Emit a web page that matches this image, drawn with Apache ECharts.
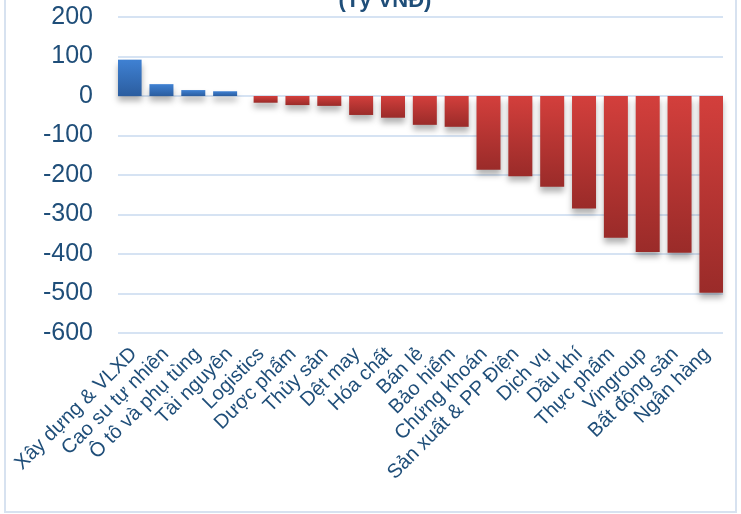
<!DOCTYPE html>
<html>
<head>
<meta charset="utf-8" />
<script src="https://cdn.jsdelivr.net/npm/echarts@6/dist/echarts.min.js"></script>
<title>Tỷ VNĐ</title>
<style>
  html, body { margin: 0; padding: 0; background: #fff; }
  #main { width: 741px; height: 514px; }
</style>
</head>
<body>
<div id="main"></div>
<script>
// nganh (sector) names, left to right
var sectors = ['Xây dựng & VLXD', 'Cao su tự nhiên', 'Ô tô và phụ tùng', 'Tài nguyên', 'Logistics',
  'Dược phẩm', 'Thủy sản', 'Dệt may', 'Hóa chất', 'Bán lẻ', 'Bảo hiểm', 'Chứng khoán',
  'Sản xuất & PP Điện', 'Dịch vụ', 'Dầu khí', 'Thực phẩm', 'Vingroup', 'Bất động sản', 'Ngân hàng'];
// gia tri (ty VND)
var values = [92, 30, 15, 12, -17, -23, -25, -48, -55, -73, -78, -187, -203, -230, -285, -359, -395, -397, -498];
var yTicks = [-600, -500, -400, -300, -200, -100, 0, 100, 200];

var posVals = values.map(function (v) { return v >= 0 ? v : null; });
var negVals = values.map(function (v) { return v < 0 ? v : null; });

var textBlue = '#1F4E79';
var myChart = echarts.init(document.getElementById('main'));

function grad(top, bottom) {
  return new echarts.graphic.LinearGradient(0, 0, 0, 1, [
    { offset: 0, color: top }, { offset: 1, color: bottom }
  ]);
}

var option = {
  animation: false,
  grid: { left: 118, right: 18, top: 17, bottom: 181 },
  graphic: [
    { type: 'rect', shape: { x: 5, y: -6, width: 731, height: 518 },
      style: { fill: 'none', stroke: '#D7E2F0', lineWidth: 2 }, silent: true },
    { type: 'text', x: 385, y: 1,
      style: { text: '(Tỷ VNĐ)', fill: textBlue, font: 'bold 22px "Liberation Sans", Arial, sans-serif',
        textAlign: 'center', textVerticalAlign: 'middle' } }
  ],
  xAxis: {
    type: 'category',
    data: sectors,
    axisLine: { show: false },
    axisTick: { show: false },
    axisLabel: {
      interval: 0, rotate: 45, margin: 18,
      color: textBlue, fontSize: 20, fontFamily: '"Liberation Sans", Arial, sans-serif'
    }
  },
  yAxis: {
    type: 'value',
    min: yTicks[0], max: yTicks[yTicks.length - 1], interval: 100,
    axisLine: { show: false },
    axisTick: { show: false },
    splitLine: { lineStyle: { color: '#D6E3F3', width: 2 } },
    axisLabel: {
      margin: 25, color: textBlue, fontSize: 25, fontFamily: '"Liberation Sans", Arial, sans-serif'
    }
  },
  series: [
    {
      type: 'bar', data: posVals, barWidth: 24, barGap: '-64%',
      itemStyle: {
        color: grad('#3F81D3', '#2B5D9F'),
        shadowColor: 'rgba(0,0,0,0.3)', shadowBlur: 6, shadowOffsetY: 5
      }
    },
    {
      type: 'bar', data: negVals, barWidth: 24,
      itemStyle: {
        color: grad('#D33F3C', '#9A2B29'),
        shadowColor: 'rgba(0,0,0,0.3)', shadowBlur: 6, shadowOffsetY: 5
      }
    }
  ]
};
myChart.setOption(option);
</script>
</body>
</html>
